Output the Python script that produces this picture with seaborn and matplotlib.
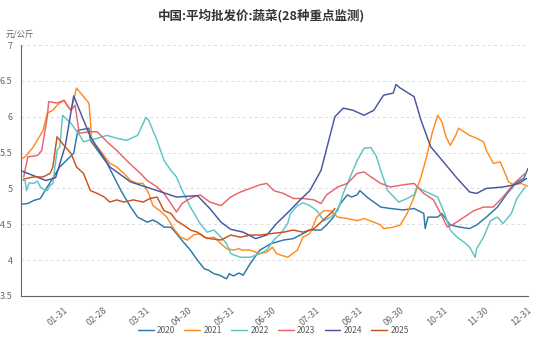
import matplotlib
matplotlib.use("Agg")
import matplotlib.pyplot as plt
import seaborn as sns
import pandas as pd

sns.set_theme(style="white")
plt.rcParams['font.family'] = ['Noto Sans CJK SC', 'DejaVu Sans']

title = "中国:平均批发价:蔬菜(28种重点监测)"
unit = "元/公斤"
tick_days = [31, 59, 90, 120, 151, 181, 212, 243, 273, 304, 334, 365]
tick_labels = ["01-31", "02-28", "03-31", "04-30", "05-31", "06-30",
               "07-31", "08-31", "09-30", "10-31", "11-30", "12-31"]

days_2020 = [1, 5, 9, 14, 19, 28, 38, 41, 49, 50, 62, 67, 72, 79, 84, 91, 95, 98, 103, 108, 112, 117, 122, 127, 132, 135, 139, 143, 148, 150, 153, 157, 160, 165, 172, 180, 189, 196, 203, 208, 216, 220, 225, 230, 235, 238, 242, 244, 249, 259, 266, 275, 283, 290, 291, 293, 300, 303, 309, 316, 323, 328, 335, 343, 350, 357, 362, 365]
vals_2020 = [4.78, 4.79, 4.83, 4.86, 5.02, 5.30, 5.49, 5.81, 5.84, 5.67, 5.35, 5.16, 4.97, 4.74, 4.60, 4.53, 4.56, 4.53, 4.46, 4.46, 4.37, 4.25, 4.14, 4.00, 3.88, 3.86, 3.81, 3.79, 3.74, 3.81, 3.78, 3.82, 3.79, 3.95, 4.14, 4.23, 4.28, 4.30, 4.37, 4.42, 4.42, 4.49, 4.60, 4.79, 4.91, 4.88, 4.91, 4.97, 4.88, 4.74, 4.72, 4.70, 4.72, 4.65, 4.44, 4.60, 4.60, 4.65, 4.49, 4.46, 4.44, 4.49, 4.60, 4.74, 4.93, 5.09, 5.14, 5.28]

days_2021 = [1, 3, 9, 16, 19, 23, 26, 31, 33, 36, 38, 40, 49, 50, 51, 57, 64, 69, 74, 79, 84, 88, 92, 95, 100, 105, 110, 115, 120, 124, 129, 134, 139, 144, 148, 153, 157, 159, 165, 172, 177, 181, 184, 192, 199, 203, 208, 213, 218, 223, 228, 235, 242, 247, 254, 259, 261, 268, 273, 278, 283, 288, 292, 296, 300, 303, 306, 309, 313, 315, 319, 323, 328, 333, 335, 340, 345, 347, 350, 351, 355, 360, 365]
vals_2021 = [5.42, 5.44, 5.58, 5.81, 6.05, 6.09, 6.16, 6.23, 6.16, 6.09, 6.23, 6.40, 6.19, 5.95, 5.67, 5.53, 5.35, 5.30, 5.21, 5.11, 5.07, 5.07, 4.93, 4.76, 4.69, 4.60, 4.44, 4.32, 4.28, 4.35, 4.37, 4.30, 4.32, 4.23, 4.16, 4.14, 4.16, 4.14, 4.14, 4.09, 4.11, 4.18, 4.09, 4.04, 4.14, 4.32, 4.37, 4.60, 4.69, 4.69, 4.60, 4.58, 4.55, 4.58, 4.53, 4.49, 4.44, 4.46, 4.49, 4.65, 4.88, 5.16, 5.44, 5.77, 6.02, 5.93, 5.72, 5.60, 5.74, 5.84, 5.79, 5.74, 5.70, 5.65, 5.53, 5.35, 5.37, 5.28, 5.14, 5.09, 5.05, 5.07, 5.03]

days_2022 = [1, 3, 4, 6, 9, 12, 14, 17, 19, 21, 23, 26, 28, 30, 36, 43, 45, 55, 62, 69, 76, 84, 90, 92, 98, 103, 108, 112, 115, 122, 129, 134, 139, 144, 148, 151, 158, 165, 172, 177, 182, 187, 192, 194, 199, 203, 208, 213, 218, 223, 228, 232, 237, 242, 247, 252, 256, 259, 264, 272, 278, 283, 285, 292, 300, 305, 309, 314, 319, 323, 327, 328, 333, 338, 343, 347, 353, 357, 363]
vals_2022 = [5.12, 5.11, 4.97, 5.08, 5.07, 5.10, 5.02, 4.98, 4.97, 5.04, 5.07, 5.53, 5.58, 6.02, 5.91, 5.72, 5.65, 5.70, 5.74, 5.70, 5.67, 5.74, 5.99, 5.95, 5.67, 5.39, 5.25, 5.16, 5.02, 4.74, 4.51, 4.39, 4.42, 4.32, 4.23, 4.09, 4.04, 4.04, 4.09, 4.14, 4.28, 4.37, 4.51, 4.65, 4.76, 4.80, 4.76, 4.69, 4.55, 4.60, 4.69, 4.93, 5.16, 5.39, 5.56, 5.57, 5.44, 5.25, 4.97, 4.81, 4.86, 4.91, 5.02, 4.95, 4.88, 4.65, 4.42, 4.32, 4.25, 4.18, 4.04, 4.16, 4.32, 4.55, 4.60, 4.51, 4.65, 4.86, 5.02]

days_2023 = [2, 5, 12, 15, 19, 20, 26, 31, 36, 39, 42, 50, 55, 62, 69, 76, 81, 86, 91, 98, 103, 108, 112, 116, 120, 124, 129, 136, 144, 151, 158, 165, 172, 177, 182, 189, 196, 203, 211, 216, 220, 228, 235, 242, 247, 252, 259, 266, 275, 283, 290, 297, 302, 307, 312, 319, 326, 333, 340, 347, 355, 363]
vals_2023 = [5.16, 5.44, 5.46, 5.53, 6.00, 6.21, 6.19, 6.23, 6.09, 6.16, 5.77, 5.79, 5.79, 5.65, 5.53, 5.39, 5.30, 5.21, 5.11, 5.02, 4.93, 4.79, 4.67, 4.79, 4.84, 4.88, 4.91, 4.81, 4.76, 4.88, 4.95, 5.00, 5.05, 5.07, 4.97, 4.93, 4.86, 4.86, 4.84, 4.79, 4.91, 5.02, 5.07, 5.21, 5.23, 5.16, 5.07, 5.02, 5.05, 5.07, 4.93, 4.84, 4.65, 4.46, 4.51, 4.60, 4.69, 4.74, 4.74, 4.88, 5.07, 5.21]

days_2024 = [1, 18, 25, 32, 38, 50, 64, 79, 98, 112, 127, 136, 144, 151, 160, 169, 177, 184, 194, 201, 208, 216, 220, 226, 232, 239, 247, 254, 261, 268, 270, 273, 283, 288, 295, 305, 314, 323, 328, 335, 347, 355, 360, 364]
vals_2024 = [5.24, 5.11, 5.15, 5.60, 6.29, 5.72, 5.30, 5.09, 4.97, 4.88, 4.90, 4.72, 4.53, 4.43, 4.39, 4.30, 4.35, 4.51, 4.70, 4.84, 4.97, 5.25, 5.55, 6.00, 6.12, 6.09, 6.02, 6.09, 6.30, 6.33, 6.45, 6.40, 6.28, 5.95, 5.58, 5.35, 5.14, 4.95, 4.93, 5.00, 5.02, 5.05, 5.09, 5.14]

days_2025 = [2, 9, 16, 21, 23, 26, 31, 36, 40, 45, 50, 55, 60, 64, 69, 74, 81, 88, 93, 98, 103, 108, 112, 117, 122, 127, 132, 136, 144, 151, 158, 165, 172, 180, 189, 196, 203, 211, 216, 220, 224, 226]
vals_2025 = [5.13, 5.16, 5.16, 5.21, 5.30, 5.72, 5.60, 5.49, 5.30, 5.21, 4.97, 4.93, 4.88, 4.81, 4.84, 4.81, 4.84, 4.81, 4.86, 4.88, 4.69, 4.65, 4.55, 4.49, 4.42, 4.39, 4.32, 4.30, 4.28, 4.35, 4.32, 4.35, 4.35, 4.37, 4.39, 4.42, 4.39, 4.44, 4.53, 4.60, 4.67, 4.72]

years = ["2020", "2021", "2022", "2023", "2024", "2025"]
series_days = [days_2020, days_2021, days_2022, days_2023, days_2024, days_2025]
series_vals = [vals_2020, vals_2021, vals_2022, vals_2023, vals_2024, vals_2025]
colors = ["#2b78a9", "#ff8c1f", "#5ec4c3", "#e8646b", "#48569b", "#c9521c"]

frames = []
for y, d, v in zip(years, series_days, series_vals):
    frames.append(pd.DataFrame({"day": d, "value": v, "year": y}))
df = pd.concat(frames, ignore_index=True)

fig = plt.figure(figsize=(5.5, 3.41), dpi=100)
ax = fig.add_axes([0.038, 0.132, 0.922, 0.736])

sns.lineplot(data=df, x="day", y="value", hue="year", palette=colors,
             hue_order=years, sort=False, estimator=None, linewidth=1.05, ax=ax, legend=True)

ax.set_xlim(0, 365)
ax.set_ylim(3.5, 7)
ax.set_yticks([3.5, 4, 4.5, 5, 5.5, 6, 6.5, 7])
ax.set_yticklabels(["3.5", "4", "4.5", "5", "5.5", "6", "6.5", "7"])
ax.set_xticks(tick_days)
ax.set_xticklabels(tick_labels, rotation=40, ha="right", rotation_mode="anchor")
ax.tick_params(axis="both", labelsize=6.5, colors="#666666", length=4, width=0.8, direction="out", pad=2)
ax.tick_params(axis="x", pad=3)
ax.yaxis.grid(True, linestyle=(0, (3, 3)), color="#dddddd", linewidth=0.7)
ax.xaxis.grid(False)
for s in ["top", "right"]:
    ax.spines[s].set_visible(False)
for s in ["left", "bottom"]:
    ax.spines[s].set_color("#666666")
    ax.spines[s].set_linewidth(0.8)
ax.set_xlabel("")
ax.set_ylabel("")

fig.text(0.475, 0.955, title, ha="center", va="center", fontsize=9, fontweight="bold", color="#333333")
fig.text(0.01, 0.9, unit, ha="left", va="center", fontsize=6, color="#666666")

handles, labels = ax.get_legend_handles_labels()
ax.legend_.remove()
fig.legend(handles, labels, loc="center", bbox_to_anchor=(0.497, 0.032), ncol=6, frameon=False,
           fontsize=6, handlelength=1.9, columnspacing=1.1, handletextpad=0.4, labelcolor="#555555")

fig.savefig("out.png", dpi=100)
